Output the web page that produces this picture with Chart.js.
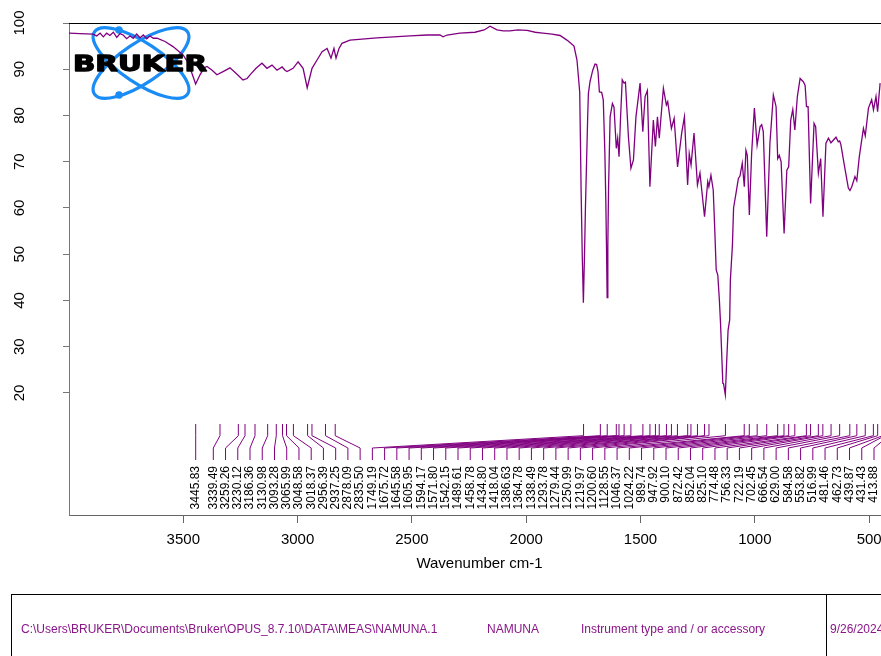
<!DOCTYPE html>
<html><head><meta charset="utf-8">
<script src="https://cdn.jsdelivr.net/npm/chart.js@4"></script>
<style>
html,body{margin:0;padding:0;overflow:hidden;background:#fff;width:881px;height:656px}
#wrap{position:relative;width:900px;height:656px}
canvas{display:block}
</style></head>
<body><div id="wrap"><canvas id="c" width="900" height="656" style="width:900px;height:656px"></canvas></div>
<script>
const wavenumbers = [4000,3952,3895,3879,3864,3850,3835,3821,3806,3791,3777,3763,3748,3733,3719,3704,3689,3675,3660,3646,3631,3615,3580,3545,3523,3501,3479,3462,3446,3427,3409,3396,3374,3353,3326,3296,3265,3239,3221,3208,3182,3156,3134,3112,3090,3068,3055,3046,3020,2998,2976,2958,2948,2937,2915,2893,2871,2863,2854,2841,2832,2819,2806,2771,2653,2508,2434,2377,2364,2346,2290,2224,2184,2158,2128,2101,2071,2036,1996,1961,1927,1887,1852,1822,1805,1791,1778,1771,1766,1763,1760,1755,1750,1745,1741,1736,1731,1728,1721,1709,1699,1692,1686,1680,1670,1663,1656,1652,1649,1646,1643,1640,1636,1633,1623,1616,1606,1600,1594,1587,1580,1572,1566,1553,1542,1531,1520,1502,1490,1480,1470,1459,1444,1435,1426,1418,1400,1387,1381,1365,1353,1338,1320,1308,1294,1287,1279,1266,1251,1240,1220,1206,1201,1192,1182,1175,1169,1162,1155,1150,1140,1137,1129,1123,1117,1110,1107,1098,1093,1080,1072,1065,1055,1046,1039,1033,1024,1014,1002,990,977,970,963,948,934,919,907,900,893,885,872,860,852,843,834,825,814,802,788,780,774,767,756,741,734,722,712,702,689,678,667,645,635,629,624,610,591,584,576,562,554,543,525,517,503,489,481,470,463,452];
const transmittance = [97.8,97.7,97.6,97.2,97.8,97.0,97.8,97.3,98.0,96.9,97.7,97.4,96.6,97.2,96.7,97.6,96.8,97.4,96.6,97.2,96.7,96.7,96.0,94.9,94.0,93.1,91.4,89.1,86.8,88.8,90.3,90.6,89.8,88.8,89.5,90.3,88.9,87.7,88.0,88.8,90.2,91.3,90.2,90.9,89.8,90.5,89.8,89.5,90.2,91.6,90.2,86.0,88.0,90.2,92.0,93.8,94.5,93.5,92.4,94.5,92.4,94.5,95.6,96.3,96.8,97.2,97.4,97.4,97.0,97.4,97.8,98.0,98.5,99.3,98.5,98.3,98.3,98.5,98.4,98.0,97.8,97.6,97.3,96.3,95.6,95.0,92.0,88.0,85.0,75.0,64.0,50.0,39.5,50.0,60.0,70.0,80.0,84.8,87.3,89.8,91.1,91.0,89.5,85.1,85.0,83.4,72.0,62.0,52.0,40.6,52.0,64.0,73.0,79.7,82.6,81.8,72.9,75.1,71.1,80.0,87.7,87.0,87.2,75.4,68.6,70.4,79.7,87.0,76.5,84.1,85.4,64.6,79.0,73.3,79.7,75.1,85.9,82.3,83.0,77.2,79.4,68.9,76.2,79.7,65.0,71.8,69.3,76.2,65.0,67.6,58.1,65.7,64.6,67.1,63.9,55.0,46.6,45.5,40.0,35.0,22.1,22.0,19.6,27.0,33.6,35.8,44.4,52.0,60.0,63.9,66.4,66.9,69.7,64.6,72.5,71.4,58.5,71.8,81.6,73.6,77.6,78.0,76.5,53.8,74.0,84.4,81.9,70.7,71.4,70.0,54.5,68.2,68.9,79.0,81.3,76.9,84.1,88.0,87.3,86.5,81.9,81.9,61.0,78.3,77.6,67.5,70.7,58.1,74.0,75.1,74.1,75.3,74.3,74.5,73.8,69.7,64.3,63.8,64.6,66.8,65.9,71.1,77.2,75.6,81.6,83.4,81.2,84.1,80.8,87.0];
const peakLabels = [3445.83,3339.49,3259.26,3230.12,3186.36,3130.98,3093.28,3065.99,3048.58,3018.37,2956.39,2937.25,2878.09,2835.50,1749.19,1675.72,1645.58,1605.95,1594.17,1571.80,1542.15,1489.61,1458.78,1434.80,1418.04,1386.63,1364.78,1338.49,1293.78,1279.44,1250.99,1219.97,1200.60,1128.55,1046.37,1024.22,989.74,947.92,900.10,872.42,852.04,825.10,774.48,756.33,722.19,702.45,666.54,629.00,584.58,553.82,516.99,481.46,462.73,439.87,431.43,413.88];
const xTickValues = [3500,3000,2500,2000,1500,1000,500];
const yTickValues = [20,30,40,50,60,70,80,90,100];
const xAxisTitle = 'Wavenumber cm-1';
const footerTexts = ['C:\\Users\\BRUKER\\Documents\\Bruker\\OPUS_8.7.10\\DATA\\MEAS\\NAMUNA.1','NAMUNA','Instrument type and / or accessory','9/26/2024'];
const logoText = 'BRUKER';

const PURPLE = '#800080';
const BLUE = '#1a8cf5';
const FONT = '"Liberation Sans", Arial, sans-serif';

const overlay = {
  id: 'overlay',
  beforeDatasetsDraw(chart) {
    const ctx = chart.ctx;
    ctx.save();
    ctx.strokeStyle = BLUE; ctx.lineWidth = 3.2;
    const cx = 141, cy = 63;
    [0.59, -0.59].forEach(r => { ctx.beginPath(); ctx.ellipse(cx, cy, 56, 20, r, 0, Math.PI * 2); ctx.stroke(); });
    ctx.fillStyle = BLUE;
    [[119, 30], [119, 95]].forEach(([px, py]) => { ctx.beginPath(); ctx.arc(px, py, 3.8, 0, Math.PI * 2); ctx.fill(); });
    ctx.restore();
  },
  afterDatasetsDraw(chart) {
    const ctx = chart.ctx, a = chart.chartArea, xs = chart.scales.x, ys = chart.scales.y;
    ctx.save();
    // top frame line
    ctx.strokeStyle = '#000'; ctx.lineWidth = 1;
    ctx.beginPath(); ctx.moveTo(a.left, a.top + 0.5); ctx.lineTo(a.right, a.top + 0.5); ctx.stroke();

    // logo text
    ctx.save();
    ctx.font = 'bold 22px "DejaVu Sans"';
    const w = ctx.measureText(logoText).width;
    ctx.translate(73, 71);
    ctx.scale(134 / w, 1);
    ctx.fillStyle = '#000'; ctx.strokeStyle = '#000'; ctx.lineWidth = 1.3; ctx.lineJoin = 'round';
    ctx.textBaseline = 'alphabetic'; ctx.textAlign = 'left';
    ctx.fillText(logoText, 0, 0); ctx.strokeText(logoText, 0, 0);
    ctx.restore();

    // peak annotations: labels spread to avoid overlap (forward then backward pass)
    const n = peakLabels.length, sp = 12.235, R = a.right - 18;
    const px = peakLabels.map(v => xs.getPixelForValue(v));
    const lx = px.slice();
    for (let i = 1; i < n; i++) lx[i] = Math.max(lx[i], lx[i - 1] + sp);
    lx[n - 1] = Math.min(lx[n - 1], R);
    for (let i = n - 2; i >= 0; i--) lx[i] = Math.min(lx[i], lx[i + 1] - sp);
    const y0 = a.top + 401, y1 = a.top + 412.7, y2 = a.top + 425, y3 = a.top + 437, yt = a.top + 443;
    ctx.strokeStyle = PURPLE; ctx.lineWidth = 1;
    for (let i = 0; i < n; i++) {
      ctx.beginPath();
      ctx.moveTo(px[i], y0); ctx.lineTo(px[i], y1); ctx.lineTo(lx[i], y2); ctx.lineTo(lx[i], y3);
      ctx.stroke();
    }
    ctx.fillStyle = '#000'; ctx.font = '12px ' + FONT; ctx.textAlign = 'right'; ctx.textBaseline = 'middle';
    for (let i = 0; i < n; i++) {
      ctx.save(); ctx.translate(lx[i], yt); ctx.rotate(-Math.PI / 2);
      ctx.fillText(peakLabels[i].toFixed(2), 0, 0); ctx.restore();
    }

    // y tick labels (rotated)
    ctx.font = '15px ' + FONT; ctx.textAlign = 'center'; ctx.textBaseline = 'middle';
    ys.ticks.forEach(t => {
      ctx.save(); ctx.translate(20, ys.getPixelForValue(t.value)); ctx.rotate(-Math.PI / 2);
      ctx.fillText(String(t.value), 0, 0); ctx.restore();
    });

    // x title
    ctx.textBaseline = 'alphabetic';
    ctx.fillText(xAxisTitle, (a.left + a.right) / 2 - 1, 568);

    // footer
    ctx.strokeStyle = '#000'; ctx.lineWidth = 1;
    ctx.strokeRect(11.5, 594.5, 1200, 200);
    ctx.beginPath(); ctx.moveTo(826.5, 594.5); ctx.lineTo(826.5, 700); ctx.stroke();
    ctx.fillStyle = '#8a168a'; ctx.font = '12px ' + FONT; ctx.textAlign = 'left';
    const fx = [21, 487, 581, 830];
    footerTexts.forEach((t, i) => ctx.fillText(t, fx[i], 633));
    ctx.restore();
  }
};

new Chart(document.getElementById('c'), {
  type: 'line',
  data: { datasets: [{
    data: wavenumbers.map((w, i) => ({ x: w, y: transmittance[i] })),
    borderColor: PURPLE, borderWidth: 1.3, pointRadius: 0, tension: 0, fill: false
  }] },
  options: {
    responsive: false, animation: false, devicePixelRatio: 1,
    layout: { padding: { top: 23, left: 0, right: 8, bottom: 0 } },
    plugins: { legend: { display: false }, tooltip: { enabled: false } },
    scales: {
      x: {
        type: 'linear', reverse: true, min: 400, max: 4000,
        afterBuildTicks: s => { s.ticks = xTickValues.map(v => ({ value: v })); },
        afterFit: s => { s.height = 141; },
        grid: { display: true, drawOnChartArea: false, drawTicks: true, tickLength: 8, color: '#666' },
        border: { display: true, color: '#666', width: 1 },
        ticks: { color: '#000', font: { family: FONT, size: 15 }, padding: 8, maxRotation: 0, autoSkip: false, callback: v => String(v) }
      },
      y: {
        type: 'linear', min: -6.38, max: 100,
        afterBuildTicks: s => { s.ticks = yTickValues.map(v => ({ value: v })); },
        afterFit: s => { s.width = 69; },
        grid: { display: true, drawOnChartArea: false, drawTicks: true, tickLength: 6, color: '#777' },
        border: { display: true, color: '#777', width: 1 },
        ticks: { display: false }
      }
    }
  },
  plugins: [overlay]
});
</script>
</body></html>
